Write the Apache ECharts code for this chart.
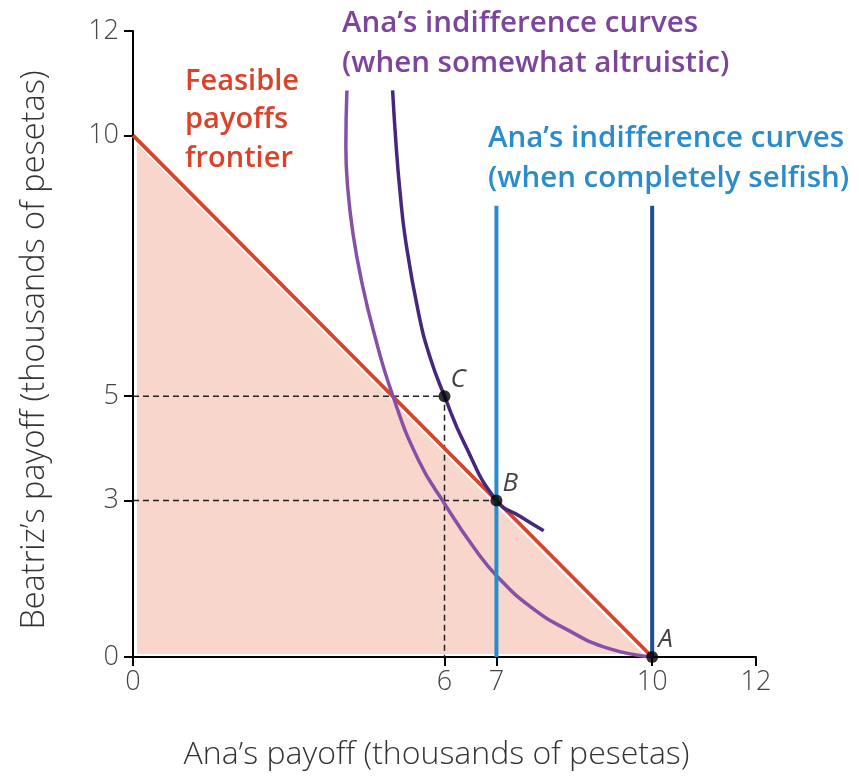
<!DOCTYPE html>
<html>
<head>
<meta charset="utf-8">
<script src="https://cdn.jsdelivr.net/npm/echarts@6/dist/echarts.min.js"></script>
<style>
  html, body { margin: 0; padding: 0; background: #fff; }
  #chart { width: 859px; height: 776px; }
</style>
</head>
<body>
<div id="chart"></div>
<script>
// axis ticks that are labelled
const xTicks = [0, 6, 7, 10, 12];
const yTicks = [0, 3, 5, 10, 12];

// feasible payoffs frontier (Ana, Beatriz)
const frontier = [[0, 10], [10, 0]];

// points on the frontier and off it
const points = [
  { name: 'A', value: [10, 0] },
  { name: 'B', value: [7, 3] },
  { name: 'C', value: [6, 5] },
];

// dashed guide lines
const guideC = [[0, 5], [6, 5], [6, 0]];
const guideB = [[0, 3], [7, 3], [7, 0]];

// Ana's indifference curves when somewhat altruistic
const altruisticLow = [
  [4.12, 10.86], [4.1, 9.78], [4.14, 8.95], [4.24, 8.1], [4.4, 7.22], [4.63, 6.26],
  [4.99, 5.05], [5.5, 3.77], [6.0, 2.94], [6.6, 2.05], [7.02, 1.54],
  [7.66, 0.96], [8.37, 0.52], [9.14, 0.17], [10, 0],
];
const altruisticHigh = [
  [5.0, 10.86], [5.07, 9.78], [5.14, 8.95], [5.25, 7.99], [5.5, 6.59], [5.72, 5.75],
  [6, 5], [6.38, 4.1], [7, 3], [7.47, 2.69], [7.91, 2.42],
];

// Ana's indifference curves when completely selfish (vertical lines)
const selfishLow = [[7, 0], [7, 8.65]];
const selfishHigh = [[10, 0], [10, 8.65]];

const RED = '#d9432a';
const FILL = '#f8d6cc';
const PURPLE_LIGHT = '#8550a6';
const PURPLE_DARK = '#45287c';
const BLUE_LIGHT = '#2a8ccb';
const BLUE_DARK = '#1f4b98';
const TEXT_FONT = '"Open Sans", "Noto Sans", sans-serif';

const chart = echarts.init(document.getElementById('chart'));

const lineSeries = (data, color, width, extra) => Object.assign({
  type: 'line',
  data,
  showSymbol: false,
  silent: true,
  animation: false,
  lineStyle: { color, width },
}, extra || {});

chart.setOption({
  animation: false,
  grid: {
    left: 133,
    right: 103,
    top: 31,
    bottom: 119,
  },
  xAxis: {
    type: 'value',
    min: 0,
    max: 12,
    interval: 1,
    name: 'Ana’s payoff (thousands of pesetas)',
    nameLocation: 'middle',
    nameGap: 82,
    nameTextStyle: {
      fontFamily: TEXT_FONT, fontSize: 32, fontWeight: 300, color: '#333',
      padding: [0, 16, 0, 0],
    },
    splitLine: { show: false },
    axisLine: { lineStyle: { color: '#000', width: 2 } },
    axisTick: { customValues: xTicks, length: 9, lineStyle: { color: '#000', width: 2 } },
    axisLabel: {
      customValues: xTicks,
      margin: 12,
      fontFamily: TEXT_FONT,
      fontSize: 27,
      fontWeight: 300,
      color: '#444',
    },
  },
  yAxis: {
    type: 'value',
    min: 0,
    max: 12,
    interval: 1,
    name: 'Beatriz’s payoff (thousands of pesetas)',
    nameLocation: 'middle',
    nameGap: 82,
    nameTextStyle: {
      fontFamily: TEXT_FONT, fontSize: 32.5, fontWeight: 300, color: '#333',
      padding: [0, 12, 0, 0],
    },
    splitLine: { show: false },
    axisLine: { lineStyle: { color: '#000', width: 2 } },
    axisTick: { customValues: yTicks, length: 9, lineStyle: { color: '#000', width: 2 } },
    axisLabel: {
      customValues: yTicks,
      margin: 14,
      fontFamily: TEXT_FONT,
      fontSize: 27,
      fontWeight: 300,
      color: '#444',
    },
  },
  series: [
    {
      // feasible payoffs set: triangle under the frontier, inset a little
      type: 'custom',
      silent: true,
      data: [frontier[0]],
      z: 1,
      renderItem: (params, api) => {
        const top = api.coord(frontier[0]);
        const right = api.coord(frontier[1]);
        const origin = api.coord([0, 0]);
        return {
          type: 'polygon',
          shape: {
            points: [
              [origin[0] + 4, origin[1] - 3],
              [top[0] + 4, top[1] + 9],
              [right[0] - 9, origin[1] - 3],
            ],
          },
          style: { fill: FILL },
        };
      },
    },
    lineSeries(guideC, '#222', 1.5, { lineStyle: { color: '#222', width: 1.5, type: [6, 4] }, z: 2 }),
    lineSeries(guideB, '#222', 1.5, { lineStyle: { color: '#222', width: 1.5, type: [6, 4] }, z: 2 }),
    lineSeries(frontier, RED, 3.8, { z: 3 }),
    lineSeries(altruisticLow, PURPLE_LIGHT, 3.5, { smooth: 0.5, z: 4 }),
    lineSeries(altruisticHigh, PURPLE_DARK, 3.5, { smooth: 0.5, z: 4 }),
    lineSeries(selfishLow, BLUE_LIGHT, 4, { z: 4 }),
    lineSeries(selfishHigh, BLUE_DARK, 4, { z: 4 }),
    {
      type: 'scatter',
      data: points,
      symbolSize: 12,
      silent: true,
      z: 6,
      itemStyle: { color: '#000' },
      label: {
        show: true,
        formatter: '{b}',
        position: 'right',
        offset: [-2, -17],
        distance: 2,
        fontFamily: TEXT_FONT,
        fontStyle: 'italic',
        fontSize: 26,
        color: '#111',
      },
    },
  ],
  graphic: [
    {
      type: 'text', left: 185, top: 62, silent: true,
      style: {
        text: 'Feasible\npayoffs\nfrontier', fill: RED,
        font: '600 29px ' + TEXT_FONT, lineHeight: 38.5,
      },
    },
    {
      type: 'text', left: 342, top: 4, silent: true,
      style: {
        text: 'Ana’s indifference curves\n(when somewhat altruistic)', fill: '#7d449e',
        font: '600 29.5px ' + TEXT_FONT, lineHeight: 40,
      },
    },
    {
      type: 'text', left: 488, top: 119, silent: true,
      style: {
        text: 'Ana’s indifference curves\n(when completely selfish)', fill: BLUE_LIGHT,
        font: '600 29.5px ' + TEXT_FONT, lineHeight: 40,
      },
    },
    {
      type: 'text', left: 185, top: 537, silent: true,
      style: {
        text: 'Feasible\npayoffs set', fill: '#e56d4c',
        font: '600 29px ' + TEXT_FONT, lineHeight: 38,
      },
    },
  ],
});
</script>
</body>
</html>
